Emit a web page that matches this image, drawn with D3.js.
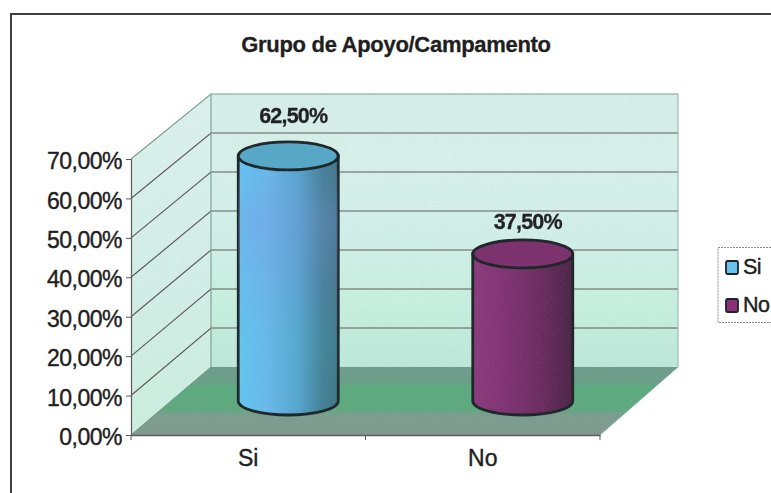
<!DOCTYPE html>
<html><head><meta charset="utf-8">
<script src="https://cdn.jsdelivr.net/npm/d3@7"></script>
<style>html,body{margin:0;padding:0;background:#fff}svg{display:block}text{font-family:"Liberation Sans",Arial,sans-serif;fill:#1f1f22}</style>
</head><body><div id="c"></div>
<script>
const categories = ["Si","No"];
const values = [62.5,37.5];
const valueLabels = ["62,50%","37,50%"];
const yTicks = [0,10,20,30,40,50,60,70];
const titleText = "Grupo de Apoyo/Campamento";

const W=771,H=493;
const ink="#1f1f22";
const svg=d3.select("#c").append("svg").attr("width",W).attr("height",H);
const defs=svg.append("defs");
function grad(id,stops,v){
  const g=defs.append("linearGradient").attr("id",id).attr("x1",0).attr("y1",0).attr("x2",v?0:1).attr("y2",v?1:0);
  stops.forEach(s=>{const t=g.append("stop").attr("offset",s[0]).attr("stop-color",s[1]); if(s[2]!==undefined)t.attr("stop-opacity",s[2]);});
}
grad("wall",[[0,"#d6eee8"],[.25,"#d8f1ea"],[.5,"#d2efea"],[.75,"#c8f0e0"],[1,"#bde8da"]],true);
grad("side",[[0,"#dcf2ed"],[.5,"#d4efe8"],[1,"#cbeee0"]],true);
grad("floor",[[0,"#6f9c8d"],[.22,"#6a9f88"],[.3,"#5cab7f"],[.62,"#5fa97f"],[.72,"#7c9c8e"],[1,"#7f9a90"]],true);
grad("cyl0",[[0,"#63c6f2"],[.3,"#68b8ea"],[.6,"#55a5cf"],[.85,"#437f95"],[1,"#3f7486"]]);
grad("cyl1",[[0,"#8b3a7c"],[.35,"#7f3272"],[.7,"#6a2b5f"],[1,"#4a2545"]]);
grad("band",[[0,"#8090e0",0],[.25,"#8090e0",.28],[.5,"#8090e0",.12],[.72,"#50c0d0",.1],[1,"#50c0d0",0]],true);
const grain=defs.append("filter").attr("id","grain").attr("x",0).attr("y",0).attr("width","100%").attr("height","100%");
grain.append("feTurbulence").attr("type","fractalNoise").attr("baseFrequency","0.55 0.8").attr("numOctaves",2).attr("seed",4).attr("result","n");
grain.append("feColorMatrix").attr("in","n").attr("type","matrix")
  .attr("values","0 0 0 0 0.35  0 0 0 0 0.4  0 0 0 0 0.4  1.1 0 0 0 -0.42").attr("result","m");
grain.append("feComposite").attr("in","m").attr("in2","SourceAlpha").attr("operator","in");
const soft=defs.append("filter").attr("id","soft");
soft.append("feGaussianBlur").attr("stdDeviation",0.45);
const topFill=["#56a7c8","#7c2f6d"];
const swatch=["#69c3ee","#8a2f78"];
const line="#5f5a58", dark="#1d2528";

// frame
svg.append("path").attr("d",`M11,${H}V14H${W}`).attr("fill","none").attr("stroke","#3f3d40").attr("stroke-width",2);

// scales
const yFront=d3.scaleLinear().domain([0,70]).range([435,159]);
const yBack=d3.scaleLinear().domain([0,70]).range([367,94]);
const yMid=d3.scaleLinear().domain([0,70]).range([401,126.5]);
const xFront=d3.scaleBand().domain(categories).range([131,600]);
const dx=80, xl=131, xr=600;

const plot=svg.append("g").attr("filter","url(#soft)");
// walls
const areas=[
 [`M${xl+dx},${yBack(70)}H${xr+78}V${yBack(0)}H${xl+dx}Z`,"url(#wall)"],
 [`M${xl},${yFront(70)}L${xl+dx},${yBack(70)}V${yBack(0)}L${xl},${yFront(0)}Z`,"url(#side)"],
 [`M${xl},${yFront(0)}L${xl+dx},${yBack(0)}H${xr+78}L${xr},${yFront(0)}Z`,"url(#floor)"]];
plot.selectAll("path.a").data(areas).join("path").attr("class","a").attr("d",d=>d[0]).attr("fill",d=>d[1]);

// grid
plot.append("g").attr("fill","none").selectAll("path.g").data(yTicks.filter(d=>d>0)).join("path").attr("class","g")
  .attr("d",d=>`M${xl},${yFront(d)}L${xl+dx},${yBack(d)}H${xr+78}`)
  .attr("stroke",d=>d===70?"#7f9d94":line).attr("stroke-width",1.2);
plot.append("path").attr("d",`M${xl},${yFront(0)}L${xl+dx},${yBack(0)}`).attr("fill","none").attr("stroke","#6f8f86").attr("stroke-width",1);
plot.append("path").attr("d",`M${xl+dx},${yBack(70)}V${yBack(0)}`).attr("fill","none").attr("stroke","#7fa59a").attr("stroke-width",1.2);
plot.append("path").attr("d",`M${xr+78},${yBack(70)}V${yBack(0)}L${xr},${yFront(0)}`).attr("fill","none").attr("stroke","#8fb5aa").attr("stroke-width",1);

// cylinders
const rx=50, ry=14, labelGap=[33,25], labelShift=[5,5];
const cxOf=c=>xFront(c)+xFront.bandwidth()/2+dx/2;
const bodyD=(c,i)=>{const cx=cxOf(c),t=yMid(values[i]),b=yMid(0);
  return `M${cx-rx},${t}V${b}A${rx},${ry} 0 0 0 ${cx+rx},${b}V${t}Z`;};
const g=plot.append("g").selectAll("g").data(categories).join("g");
g.append("path").attr("d",bodyD).attr("fill",(c,i)=>`url(#cyl${i})`).attr("stroke",dark).attr("stroke-width",2.8);
g.filter((c,i)=>i===0).append("path").attr("d",bodyD).attr("fill","url(#band)");
g.append("ellipse").attr("cx",cxOf).attr("cy",(c,i)=>yMid(values[i])).attr("rx",rx).attr("ry",ry)
  .attr("fill",(c,i)=>topFill[i]).attr("stroke",dark).attr("stroke-width",2.8);
// scanned-paper grain over the plot
plot.append("path").attr("d",areas[0][0]+areas[1][0]+areas[2][0]).attr("fill","#000").attr("filter","url(#grain)").attr("opacity",.18);

g.append("text").attr("x",(c,i)=>cxOf(c)+labelShift[i]).attr("y",(c,i)=>yMid(values[i])-labelGap[i])
  .attr("text-anchor","middle").attr("font-size",21.5).attr("font-weight","bold").attr("letter-spacing",-0.8)
  .attr("stroke",ink).attr("stroke-width",0.3)
  .text((c,i)=>valueLabels[i]);

// axes
const axL=svg.append("g").attr("transform",`translate(${xl},0)`)
  .call(d3.axisLeft(yFront).tickValues(yTicks).tickSize(5).tickPadding(4)
    .tickFormat(d=>d3.format(".2f")(d).replace(".",",")+"%"));
axL.select(".domain").attr("stroke",line).attr("stroke-width",1.2);
axL.selectAll("line").attr("stroke",line);
axL.selectAll("text").attr("font-size",23).attr("font-family",null).attr("letter-spacing",-0.5).attr("dy","0.42em").attr("fill",ink).attr("stroke",ink).attr("stroke-width",0.4);
const axB=svg.append("g").attr("transform",`translate(0,${yFront(0)})`)
  .call(d3.axisBottom(xFront).tickSize(0).tickPadding(15));
axB.select(".domain").attr("stroke",line).attr("stroke-width",1.4);
axB.selectAll("text").attr("font-size",23).attr("font-family",null).attr("fill",ink).attr("stroke",ink).attr("stroke-width",0.4);
axB.append("g").selectAll("line").data(xFront.domain().map(c=>xFront(c)).concat(xr)).join("line")
  .attr("x1",d=>d).attr("x2",d=>d).attr("y1",0).attr("y2",5).attr("stroke",line);

// title
svg.append("text").attr("x",396).attr("y",52).attr("text-anchor","middle")
  .attr("font-size",22).attr("font-weight","bold").attr("letter-spacing",-0.3)
  .attr("stroke",ink).attr("stroke-width",0.3).text(titleText);

// legend
const leg=svg.append("g");
leg.append("path").attr("d",`M${W},247.5H718V322.5H${W}`).attr("fill","#fff").attr("stroke","#8a8a8a").attr("stroke-dasharray","2 1");
const li=leg.selectAll("g").data(categories).join("g").attr("transform",(c,i)=>`translate(0,${268+i*38})`);
li.append("rect").attr("x",726).attr("y",-7).attr("width",12).attr("height",13).attr("rx",1.5)
  .attr("fill",(c,i)=>swatch[i]).attr("stroke",dark).attr("stroke-width",1.8);
li.append("text").attr("x",743).attr("y",6).attr("font-size",21.5).attr("letter-spacing",-0.5)
  .attr("stroke",ink).attr("stroke-width",0.4).text(c=>c);
</script></body></html>
